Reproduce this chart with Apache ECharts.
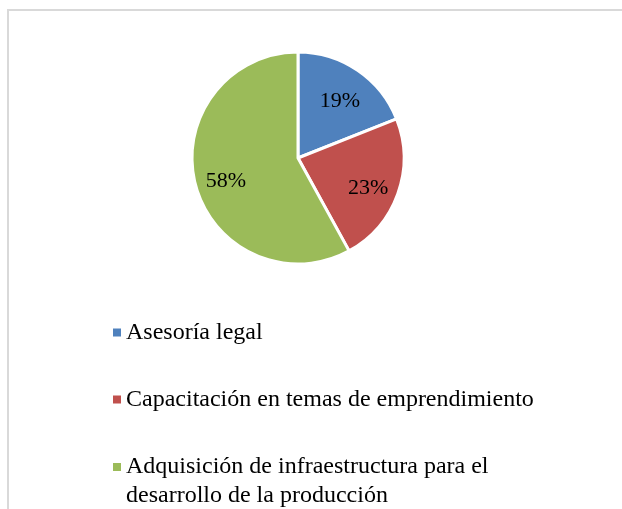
<!DOCTYPE html>
<html>
<head>
<meta charset="utf-8">
<script src="https://cdn.jsdelivr.net/npm/echarts@6/dist/echarts.min.js"></script>
<style>
  html, body { margin: 0; padding: 0; background: #fff; }
  #chart { width: 622px; height: 509px; }
</style>
</head>
<body>
<div id="chart"></div>
<script>
var categories = ['Asesoría legal', 'Capacitación en temas de emprendimiento', 'Adquisición de infraestructura para el desarrollo de la producción'];
var values = [19, 23, 58];
var colors = ['#4F81BD', '#C0504D', '#9BBB59'];

var serif = '"Liberation Serif", "Times New Roman", serif';
var myChart = echarts.init(document.getElementById('chart'));

var pieData = categories.map(function (name, i) {
    return { name: name, value: values[i], itemStyle: { color: colors[i] } };
});

var legendText = { fontFamily: serif, fontSize: 24, color: '#000', lineHeight: 29 };

var option = {
    animation: false,
    graphic: [{
        type: 'polyline',
        z: -10,
        shape: { points: [[8, 1000], [8, 10], [1000, 10]] },
        style: { fill: 'none', stroke: '#d9d9d9', lineWidth: 2 }
    }],
    legend: [{
        orient: 'vertical',
        left: 113,
        top: 318,
        padding: 0,
        itemWidth: 8,
        itemHeight: 8,
        itemGap: 38,
        icon: 'rect',
        selectedMode: false,
        itemStyle: { borderWidth: 0 },
        data: categories.slice(0, 2),
        textStyle: legendText
    }, {
        // wrapped item: square kept on the first line of text
        orient: 'vertical',
        left: 113,
        top: 452.5,
        padding: 0,
        itemWidth: 8,
        itemHeight: 37,
        icon: 'path://M0,0h8v8h-8zM0,37h0.01',
        selectedMode: false,
        itemStyle: { borderWidth: 0 },
        data: categories.slice(2),
        textStyle: Object.assign({ width: 420, overflow: 'break' }, legendText)
    }],
    series: [{
        type: 'pie',
        center: [298, 158],
        radius: 106,
        startAngle: 90,
        clockwise: true,
        silent: true,
        label: { show: false },
        labelLine: { show: false },
        itemStyle: { borderColor: '#fff', borderWidth: 3 },
        data: pieData
    }, {
        // transparent copy only used to place the percentage labels
        type: 'pie',
        center: [298, 158],
        radius: [38, 105],
        startAngle: 90,
        clockwise: true,
        silent: true,
        legendHoverLink: false,
        itemStyle: { color: 'rgba(0,0,0,0)', borderWidth: 0 },
        label: {
            show: true,
            position: 'inside',
            formatter: '{s| }\n{d}%',
            fontFamily: serif,
            fontSize: 22,
            lineHeight: 24,
            color: '#000',
            rich: {
                s: { fontSize: 1, lineHeight: 10 }
            }
        },
        labelLine: { show: false },
        data: categories.map(function (name, i) { return { name: name, value: values[i] }; })
    }]
};

myChart.setOption(option);
window.addEventListener('resize', function () {
    myChart.resize();
});
</script>
</body>
</html>
